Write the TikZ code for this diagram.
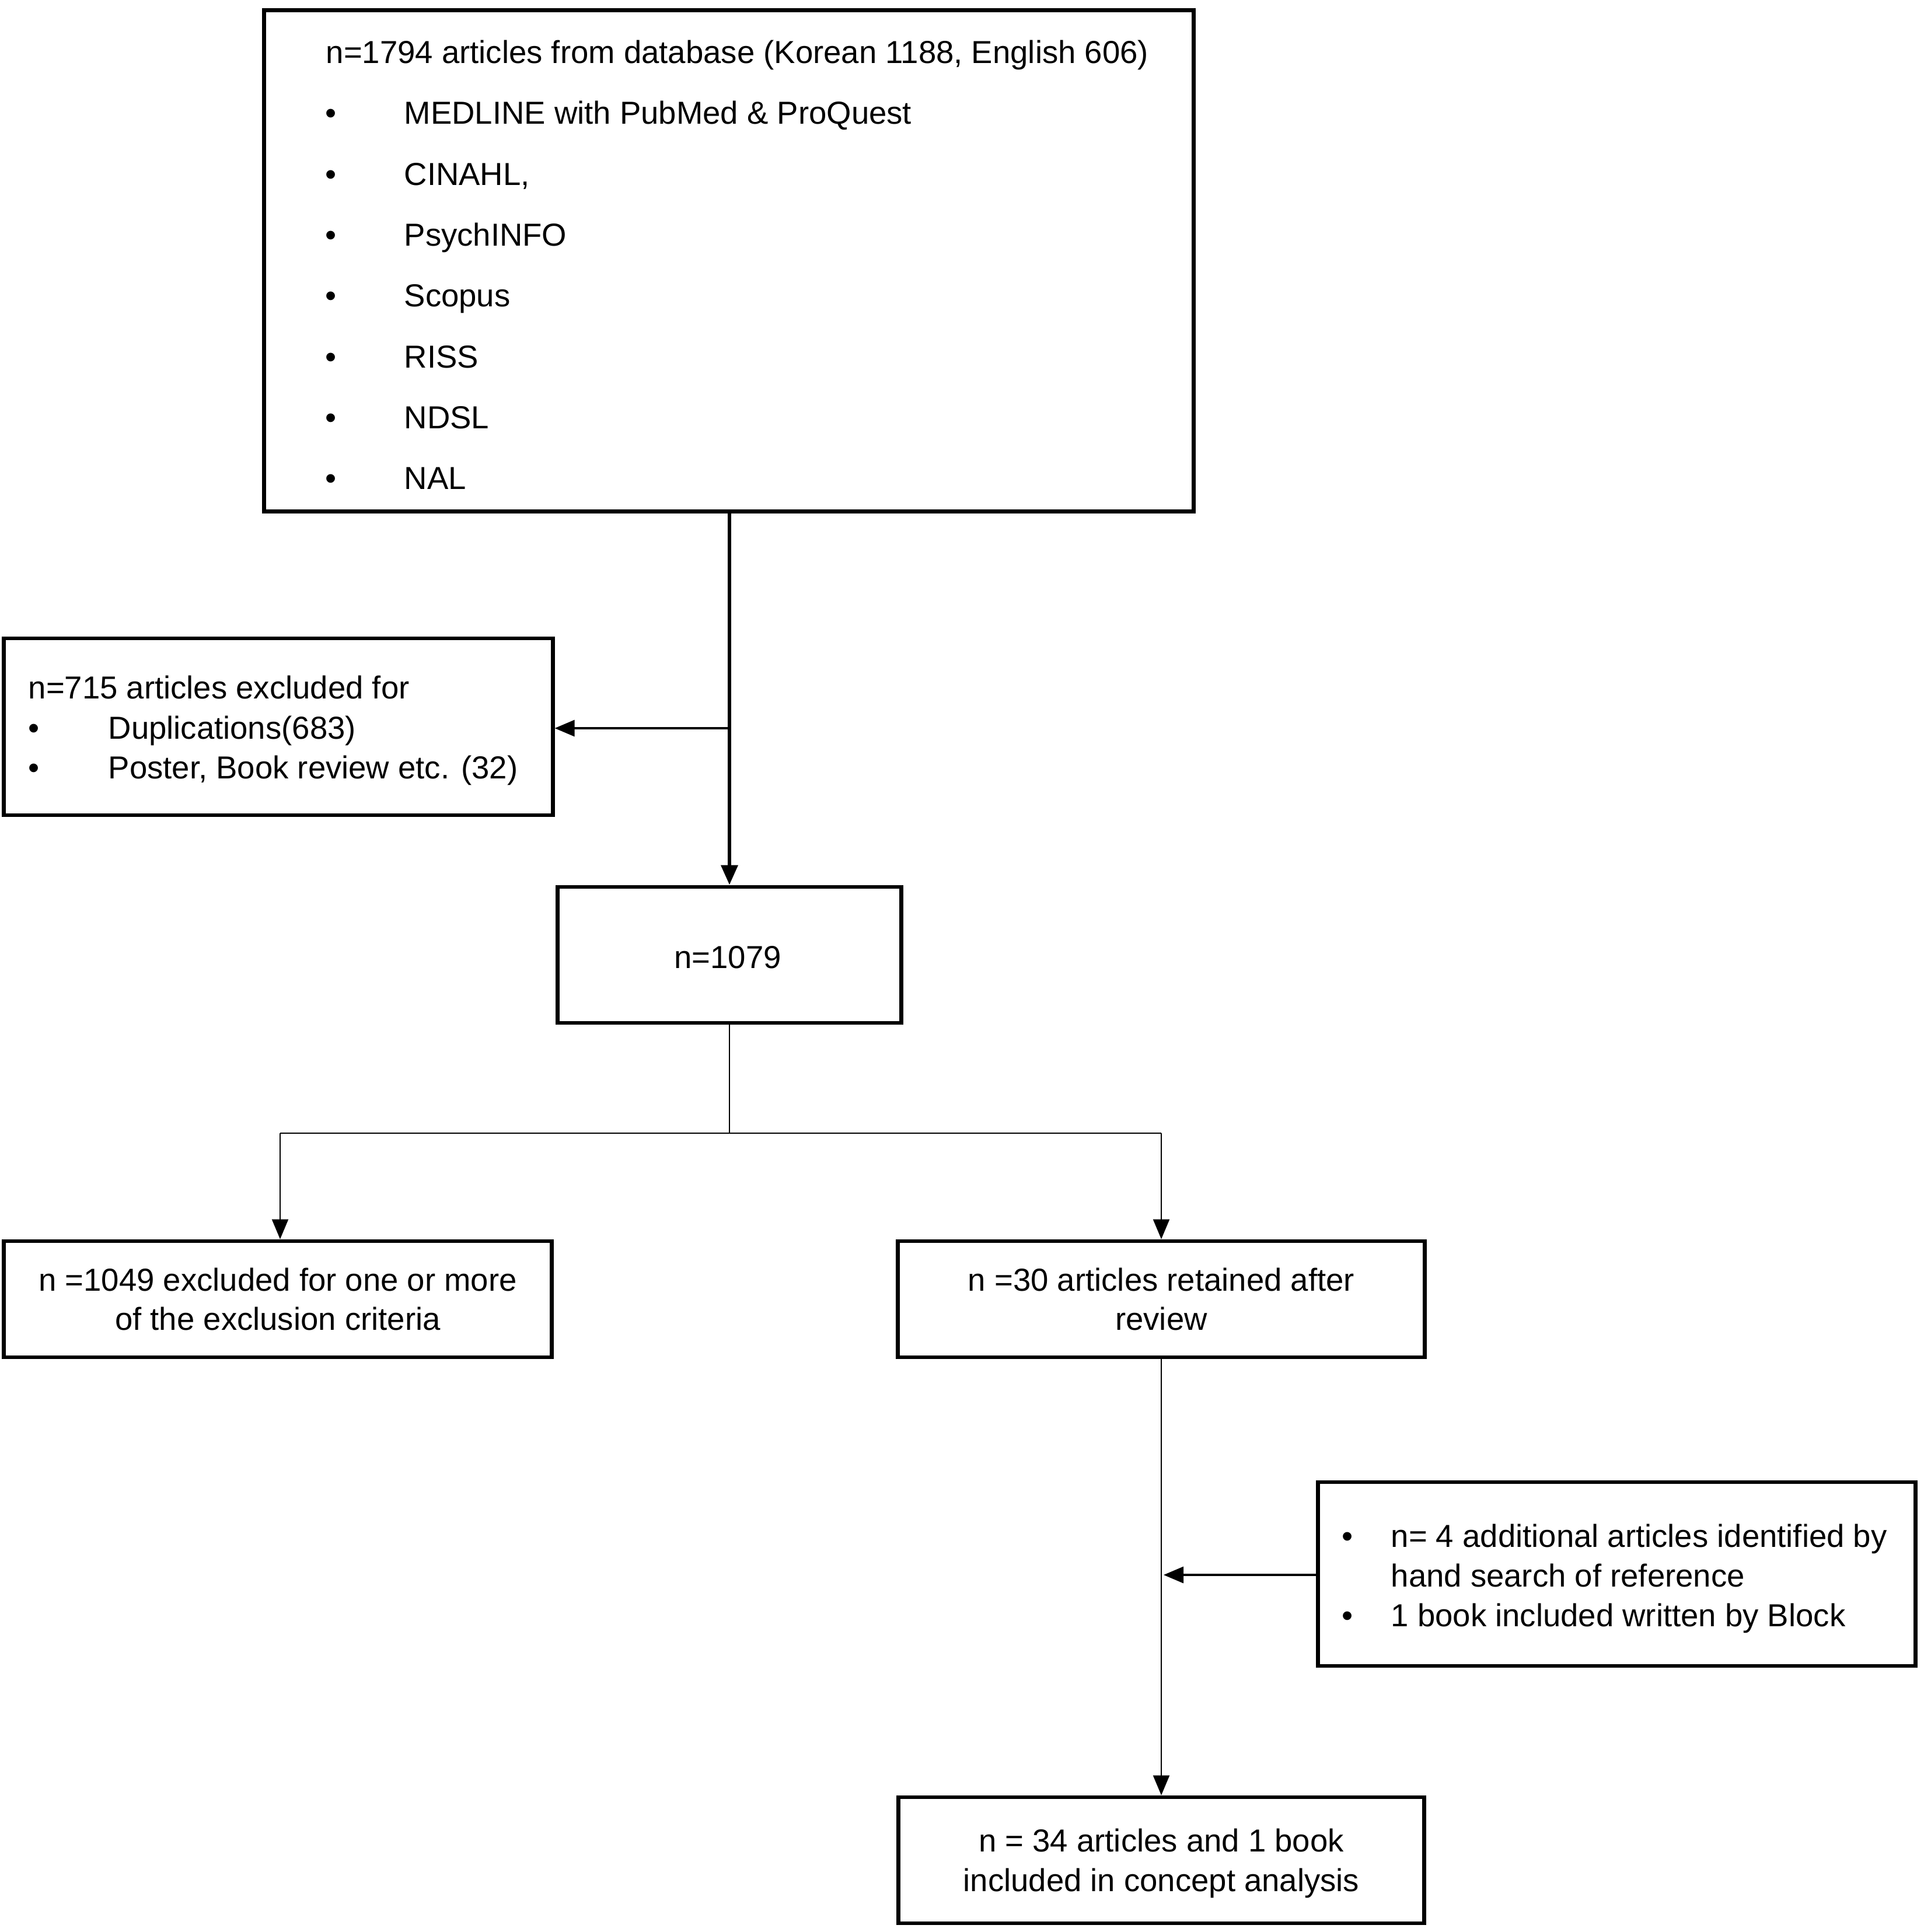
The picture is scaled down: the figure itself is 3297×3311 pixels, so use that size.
\documentclass[tikz,border=0pt]{standalone}
\usepackage{fontspec}
\setmainfont{Liberation Sans}
\usetikzlibrary{arrows.meta}
\tikzset{
  box/.style={draw, line width=1.9pt, inner sep=0pt, fill=white},
  txt/.style={inner sep=0pt, anchor=base west, font=\fontsize{15.5pt}{19pt}\selectfont},
  ctxt/.style={txt, anchor=base},
  thin/.style={line width=0.6pt},
  mid/.style={line width=0.9pt},
  thick/.style={line width=1.9pt},
  tip/.style={-{Triangle[length=0.34cm,width=0.28cm]}},
}
\begin{document}
\begin{tikzpicture}[x=0.01cm,y=-0.01cm]
\useasboundingbox (0,0) rectangle (3297,3311);
% boxes
\node[box, minimum width=15.92cm, minimum height=8.58cm] (top) at (1249,447) {};
\node[box, minimum width=9.40cm, minimum height=3.03cm] (ex715) at (477,1245.5) {};
\node[box, minimum width=5.88cm, minimum height=2.33cm] (n1079) at (1250,1636.5) {};
\node[box, minimum width=9.38cm, minimum height=1.99cm] (ex1049) at (476,2226.5) {};
\node[box, minimum width=9.03cm, minimum height=1.99cm] (ret30) at (1990,2226.5) {};
\node[box, minimum width=10.23cm, minimum height=3.15cm] (add) at (2770.5,2697.5) {};
\node[box, minimum width=9.01cm, minimum height=2.16cm] (final) at (1990,3188) {};
% top box text
\node[txt] (t0) at (558,108) {n=1794 articles from database (Korean 1188, English 606)};
\node[txt] (b1) at (557,212) {•};
\node[txt] (t1) at (692,212) {MEDLINE with PubMed \& ProQuest};
\node[txt] (b2) at (557,317) {•};
\node[txt] (t2) at (692,317) {CINAHL,};
\node[txt] (b3) at (557,421) {•};
\node[txt] (t3) at (692,421) {PsychINFO};
\node[txt] (b4) at (557,525) {•};
\node[txt] (t4) at (692,525) {Scopus};
\node[txt] (b5) at (557,630) {•};
\node[txt] (t5) at (692,630) {RISS};
\node[txt] (b6) at (557,734) {•};
\node[txt] (t6) at (692,734) {NDSL};
\node[txt] (b7) at (557,838) {•};
\node[txt] (t7) at (692,838) {NAL};
% 715 box text
\node[txt] (e0) at (48,1197) {n=715 articles excluded for};
\node[txt] (eb1) at (48,1266) {•};
\node[txt] (e1) at (185,1266) {Duplications(683)};
\node[txt] (eb2) at (48,1334) {•};
\node[txt] (e2) at (185,1334) {Poster, Book review etc. (32)};
% 1079
\node[ctxt] (m0) at (1247,1659) {n=1079};
% 1049
\node[ctxt] (x0) at (476,2212) {n =1049 excluded for one or more};
\node[ctxt] (x1) at (476,2279) {of the exclusion criteria};
% 30
\node[ctxt] (r0) at (1990,2212) {n =30 articles retained after};
\node[ctxt] (r1) at (1990,2279) {review};
% additional
\node[txt] (ab1) at (2299,2651) {•};
\node[txt] (a0) at (2383,2651) {n= 4 additional articles identified by};
\node[txt] (a1) at (2383,2719) {hand search of reference};
\node[txt] (ab2) at (2299,2787) {•};
\node[txt] (a2) at (2383,2787) {1 book included written by Block};
% final
\node[ctxt] (f0) at (1990,3173) {n = 34 articles and 1 book};
\node[ctxt] (f1) at (1990,3241) {included in concept analysis};
% connectors
\coordinate (br1) at (1250,1248);
\draw[thick, tip] (top.south -| n1079.north) -- (n1079.north);
\draw[mid, tip] (br1) -- (br1 -| ex715.east);
\coordinate (sp) at (1250,1942);
\coordinate (spL) at (480,1942);
\coordinate (spR) at (1990,1942);
\draw[thin] (n1079.south) -- (sp);
\draw[thin] (spL) -- (spR);
\draw[thin, tip] (spL) -- (spL |- ex1049.north);
\draw[thin, tip] (spR) -- (ret30.north);
\draw[thin, tip] (ret30.south) -- (final.north);
\coordinate (jn) at (1994,2699);
\draw[mid, tip] (add.west |- jn) -- (jn);
\end{tikzpicture}
\end{document}
